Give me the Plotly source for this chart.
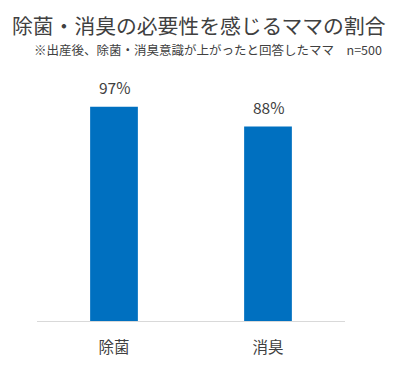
import plotly.graph_objects as go

categories = ["除菌", "消臭"]
values = [97, 88]
value_labels = ["97%", "88%"]

title_text = "除菌・消臭の必要性を感じるママの割合"
subtitle_text = "※出産後、除菌・消臭意識が上がったと回答したママ　n=500"

FONT = "Noto Sans CJK JP"
TXT = "#404040"

fig = go.Figure()
fig.add_trace(go.Bar(
    x=categories, y=values,
    marker=dict(color="#0070C0", line=dict(width=0)),
    hoverinfo="skip",
))

for c, v, t in zip(categories, values, value_labels):
    fig.add_annotation(x=c, y=v, text=t, showarrow=False, yanchor="bottom",
                       yshift=7, font=dict(family=FONT, size=15.5, color=TXT))

fig.add_annotation(xref="paper", yref="paper", x=(384 - 37) / 308, y=(325 - 49) / 225,
                   xanchor="right", yanchor="middle", text=subtitle_text, showarrow=False,
                   font=dict(family=FONT, size=12.5, color=TXT))

fig.update_layout(
    width=400, height=369,
    margin=dict(l=37, r=55, t=100, b=44),
    paper_bgcolor="white", plot_bgcolor="white",
    bargap=0.69,
    showlegend=False,
    title=dict(text=title_text, x=12 / 400, xanchor="left", y=1 - 27 / 369, yanchor="middle",
               font=dict(family=FONT, size=20.8, color=TXT)),
    xaxis=dict(showline=True, linecolor="#D9D9D9", linewidth=1, ticks="outside",
               ticklen=12, tickcolor="rgba(0,0,0,0)", showgrid=False,
               tickfont=dict(family=FONT, size=15.5, color=TXT)),
    yaxis=dict(range=[0, 100], visible=False, showgrid=False),
)

fig.write_html("out.html", config={"displayModeBar": False},
               post_script="document.body.style.margin='0';")
